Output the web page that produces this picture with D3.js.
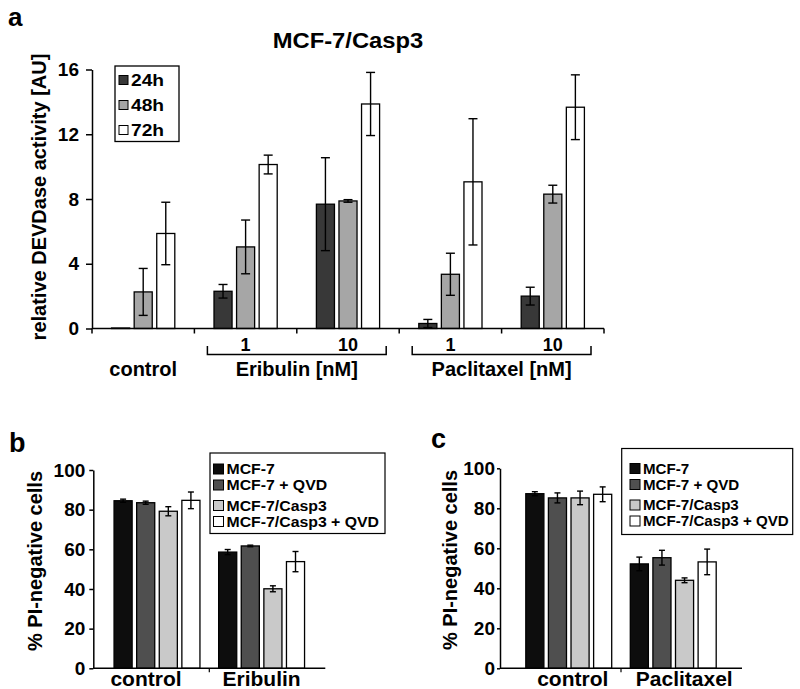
<!DOCTYPE html>
<html><head><meta charset="utf-8">
<script src="https://cdn.jsdelivr.net/npm/d3@7"></script>
<style>
html,body{margin:0;padding:0;background:#fff;}
svg{display:block;font-family:"Liberation Sans",Arial,sans-serif;font-weight:bold;}
</style></head>
<body>
<svg id="chart" width="800" height="689"></svg>
<script>
// ---------- Panel a data ----------
const titleA = "MCF-7/Casp3";
const categoriesA = ["control", "Eri1", "Eri10", "Pac1", "Pac10"];
const doseLabelsA = ["", "1", "10", "1", "10"];
const seriesNamesA = ["24h", "48h", "72h"];
const values24h = [0.03, 2.30, 7.68, 0.31, 2.00];
const errors24h = [0.00, 0.42, 2.87, 0.25, 0.55];
const values48h = [2.26, 5.04, 7.88, 3.35, 8.30];
const errors48h = [1.45, 1.66, 0.08, 1.30, 0.55];
const values72h = [5.87, 10.13, 13.87, 9.06, 13.67];
const errors72h = [1.93, 0.58, 1.95, 3.90, 2.00];
const yTicksA = [0, 4, 8, 12, 16];
const drugGroupsA = [
  {label: "Eribulin [nM]", cats: ["Eri1", "Eri10"]},
  {label: "Paclitaxel [nM]", cats: ["Pac1", "Pac10"]}
];

// ---------- Panels b / c data ----------
const seriesNamesBC = ["MCF-7", "MCF-7 + QVD", "MCF-7/Casp3", "MCF-7/Casp3 + QVD"];
const categoriesB = ["control", "Eribulin"];
const bMCF7 = [84.5, 58.6],      bMCF7err = [0.8, 1.3];
const bMCF7QVD = [83.5, 61.7],   bMCF7QVDerr = [0.8, 0.4];
const bCasp3 = [79.2, 40.1],     bCasp3err = [2.3, 1.5];
const bCasp3QVD = [84.7, 53.8],  bCasp3QVDerr = [4.2, 5.1];
const categoriesC = ["control", "Paclitaxel"];
const cMCF7 = [87.3, 52.2],      cMCF7err = [1.0, 3.4];
const cMCF7QVD = [85.2, 55.3],   cMCF7QVDerr = [2.5, 3.7];
const cCasp3 = [85.2, 44.0],     cCasp3err = [3.4, 1.2];
const cCasp3QVD = [87.0, 53.2],  cCasp3QVDerr = [3.7, 6.4];
const yTicksBC = [0, 20, 40, 60, 80, 100];

const colorsA = ["#383838", "#a6a6a6", "#ffffff"];
const colorsBC = ["#0d0d0d", "#4f4f4f", "#c9c9c9", "#ffffff"];

const svg = d3.select("#chart");

// stretch text horizontally (reference type is slightly wide)
function widen(sel, f) {
  sel.each(function () {
    const w = this.getComputedTextLength();
    d3.select(this).attr("textLength", w * f).attr("lengthAdjust", "spacingAndGlyphs");
  });
  return sel;
}

function styleAxis(g, fs) {
  g.select(".domain").attr("stroke", "#000").attr("stroke-width", 1.5);
  g.selectAll(".tick line").attr("stroke", "#000").attr("stroke-width", 1.5);
  g.selectAll(".tick text").attr("fill", "#000").style("font-size", fs + "px").style("font-weight", "bold")
    .style("font-family", '"Liberation Sans",Arial,sans-serif');
}

function drawBars(g, groups, xPos, inner, y, capW) {
  groups.forEach(s => {
    s.values.forEach((v, i) => {
      const x0 = xPos(i) + inner(s.name);
      const bw = inner.bandwidth();
      g.append("rect").attr("x", x0).attr("y", y(v)).attr("width", bw).attr("height", y(0) - y(v))
        .attr("fill", s.color).attr("stroke", "#000").attr("stroke-width", 1.3);
      const e = s.errors[i];
      if (e > 0) {
        const cx = x0 + bw / 2;
        g.append("line").attr("x1", cx).attr("x2", cx).attr("y1", y(v + e)).attr("y2", y(v - e))
          .attr("stroke", "#000").attr("stroke-width", 1.4);
        [v + e, v - e].forEach(t => g.append("line").attr("x1", cx - capW / 2).attr("x2", cx + capW / 2)
          .attr("y1", y(t)).attr("y2", y(t)).attr("stroke", "#000").attr("stroke-width", 1.4));
      }
    });
  });
}

// ================= Panel a =================
{
  const g = svg.append("g");
  const x = d3.scaleBand().domain(categoriesA).range([92, 604]).padding(0);
  const y = d3.scaleLinear().domain([0, 16]).range([328.5, 69.5]);
  const inner = d3.scaleBand().domain(seriesNamesA).range([0, 63.2]).paddingInner(0.2);
  const groups = [
    {name: "24h", values: values24h, errors: errors24h, color: colorsA[0]},
    {name: "48h", values: values48h, errors: errors48h, color: colorsA[1]},
    {name: "72h", values: values72h, errors: errors72h, color: colorsA[2]}
  ];
  const xPos = i => x(categoriesA[i]) + x.bandwidth() / 2 - 31.6;
  drawBars(g, groups, xPos, inner, y, 9);

  const ya = g.append("g").attr("transform", "translate(92,0)")
    .call(d3.axisLeft(y).tickValues(yTicksA).tickSize(6).tickPadding(7).tickSizeOuter(0));
  styleAxis(ya, 19);

  g.append("line").attr("x1", x.range()[0]).attr("x2", x.range()[1]).attr("y1", y(0)).attr("y2", y(0))
    .attr("stroke", "#000").attr("stroke-width", 1.5);
  const bounds = categoriesA.map(c => x(c)).concat([x.range()[1]]);
  bounds.forEach(b => g.append("line").attr("x1", b).attr("x2", b).attr("y1", y(0)).attr("y2", y(0) + 5)
    .attr("stroke", "#000").attr("stroke-width", 1.5));

  categoriesA.forEach((c, i) => {
    g.append("text").attr("x", x(c) + x.bandwidth() / 2).attr("y", 351).attr("text-anchor", "middle")
      .style("font-size", "18px").text(doseLabelsA[i]);
  });
  g.append("text").attr("x", x("control") + x.bandwidth() / 2).attr("y", 376).attr("text-anchor", "middle")
    .style("font-size", "20px").text("control");
  drugGroupsA.forEach(d => {
    const x1 = x(d.cats[0]) + 13, x2 = x(d.cats[d.cats.length - 1]) + x.bandwidth() - 13;
    g.append("path").attr("d", `M${x1},346 V354.5 H${x2} V346`).attr("fill", "none")
      .attr("stroke", "#000").attr("stroke-width", 1.5);
    g.append("text").attr("x", (x1 + x2) / 2).attr("y", 376).attr("text-anchor", "middle")
      .style("font-size", "20px").text(d.label);
  });
  widen(g.append("text").attr("x", 348).attr("y", 48).attr("text-anchor", "middle").style("font-size", "22px").text(titleA), 1.08);
  g.append("text").attr("transform", "translate(39,197) rotate(-90)").attr("text-anchor", "middle")
    .attr("dy", "0.35em").style("font-size", "20px").text("relative DEVDase activity [AU]");
  g.append("text").attr("x", 8).attr("y", 26).style("font-size", "26px").text("a");
  // legend
  g.append("rect").attr("x", 115).attr("y", 66).attr("width", 64).attr("height", 75.5)
    .attr("fill", "#fff").attr("stroke", "#000").attr("stroke-width", 1.3);
  seriesNamesA.forEach((s, i) => {
    const cy = 80 + i * 25;
    g.append("rect").attr("x", 119).attr("y", cy - 4.5).attr("width", 9).attr("height", 9)
      .attr("fill", colorsA[i]).attr("stroke", "#000").attr("stroke-width", 1);
    widen(g.append("text").attr("x", 131).attr("y", cy + 6).style("font-size", "16px").text(s), 1.2);
  });
}

// ================= Panels b and c =================
function panelBC(opts) {
  const g = svg.append("g");
  const x = d3.scalePoint().domain(opts.cats).range(opts.xRange).padding(opts.pad);
  const y = d3.scaleLinear().domain([0, 100]).range(opts.yRange);
  const inner = d3.scaleBand().domain(seriesNamesBC).range([0, 85.9]).paddingInner(0.2);
  const xPos = i => x(opts.cats[i]) - 42.95;
  drawBars(g, opts.groups, xPos, inner, y, 6);

  const ya = g.append("g").attr("transform", `translate(${opts.xRange[0]},0)`)
    .call(d3.axisLeft(y).tickValues(yTicksBC).tickSize(opts.tickSize).tickPadding(opts.tickPad).tickSizeOuter(0));
  styleAxis(ya, 19);
  g.append("line").attr("x1", opts.xRange[0]).attr("x2", opts.xRange[1]).attr("y1", y(0)).attr("y2", y(0))
    .attr("stroke", "#000").attr("stroke-width", 1.5);
  const mid = (x(opts.cats[0]) + x(opts.cats[1])) / 2;
  g.append("line").attr("x1", mid).attr("x2", mid).attr("y1", y(0)).attr("y2", y(0) + 4)
    .attr("stroke", "#000").attr("stroke-width", 1.2);
  opts.cats.forEach((c, i) => {
    g.append("text").attr("x", x(c) + opts.labelDx[i]).attr("y", 686).attr("text-anchor", "middle")
      .style("font-size", "21px").text(c);
  });
  g.append("text").attr("transform", `translate(${opts.yLabelX},${opts.yLabelY}) rotate(-90)`)
    .attr("text-anchor", "middle").attr("dy", "0.35em").style("font-size", "20px").text("% PI-negative cells");
  g.append("text").attr("x", opts.letterX).attr("y", opts.letterY).style("font-size", "27px").text(opts.letter);
  const L = opts.legend;
  g.append("rect").attr("x", L.x).attr("y", L.y).attr("width", L.w).attr("height", L.h)
    .attr("fill", "#fff").attr("stroke", "#000").attr("stroke-width", 1.2);
  seriesNamesBC.forEach((s, i) => {
    const cy = L.rows[i];
    g.append("rect").attr("x", L.sx).attr("y", cy - 5).attr("width", 10).attr("height", 10)
      .attr("fill", colorsBC[i]).attr("stroke", "#000").attr("stroke-width", 1);
    widen(g.append("text").attr("x", L.sx + 13).attr("y", cy + 5).style("font-size", "14px").text(s), L.stretch);
  });
}

panelBC({
  cats: categoriesB, xRange: [93.3, 325.3], pad: 0.609, yRange: [668.3, 470],
  tickSize: 4, tickPad: 4, labelDx: [-11, 0], yLabelX: 35, yLabelY: 561, letter: "b", letterX: 9, letterY: 452,
  legend: {x: 210, y: 453, w: 175, h: 80.5, sx: 213.5, stretch: 1.13, rows: [469, 485, 505.5, 521.5]},
  groups: [
    {name: seriesNamesBC[0], values: bMCF7, errors: bMCF7err, color: colorsBC[0]},
    {name: seriesNamesBC[1], values: bMCF7QVD, errors: bMCF7QVDerr, color: colorsBC[1]},
    {name: seriesNamesBC[2], values: bCasp3, errors: bCasp3err, color: colorsBC[2]},
    {name: seriesNamesBC[3], values: bCasp3QVD, errors: bCasp3QVDerr, color: colorsBC[3]}
  ]
});
panelBC({
  cats: categoriesC, xRange: [500, 742], pad: 0.658, yRange: [668.3, 468.3],
  tickSize: 3, tickPad: 2, labelDx: [4, 11], yLabelX: 450, yLabelY: 560, letter: "c", letterX: 431, letterY: 448,
  legend: {x: 621.7, y: 448.5, w: 171, h: 86, sx: 630, stretch: 1.08, rows: [468.5, 484.5, 505, 521]},
  groups: [
    {name: seriesNamesBC[0], values: cMCF7, errors: cMCF7err, color: colorsBC[0]},
    {name: seriesNamesBC[1], values: cMCF7QVD, errors: cMCF7QVDerr, color: colorsBC[1]},
    {name: seriesNamesBC[2], values: cCasp3, errors: cCasp3err, color: colorsBC[2]},
    {name: seriesNamesBC[3], values: cCasp3QVD, errors: cCasp3QVDerr, color: colorsBC[3]}
  ]
});
</script>
</body></html>
